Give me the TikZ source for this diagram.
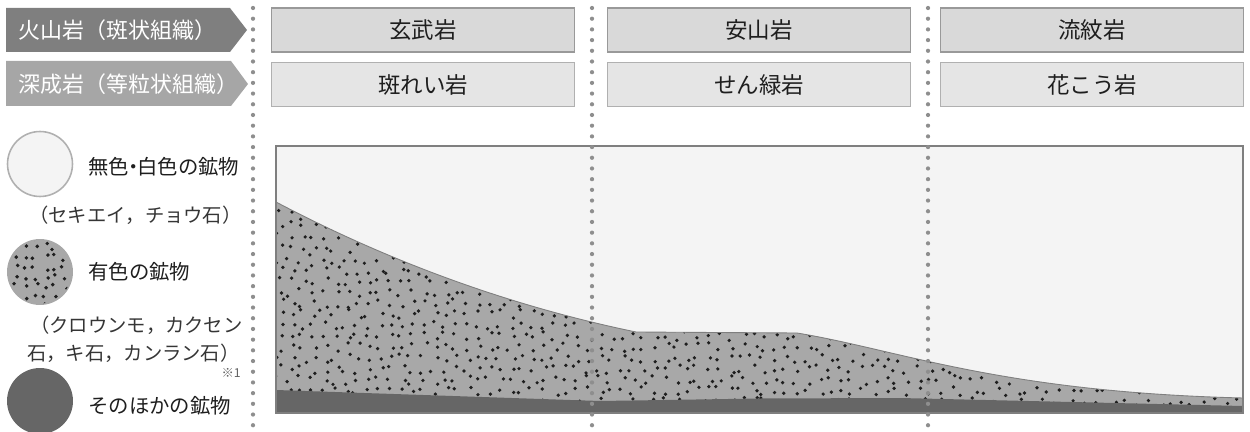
\documentclass[tikz,border=0pt]{standalone}
\usepackage{fontspec}
\setmainfont{Noto Sans CJK JP}
\usetikzlibrary{positioning}

\definecolor{volcgray}{HTML}{7F7F7F}
\definecolor{plutgray}{HTML}{A6A6A6}
\definecolor{rowafill}{HTML}{D9D9D9}
\definecolor{rowbfill}{HTML}{E5E5E5}
\definecolor{rowaline}{HTML}{999999}
\definecolor{rowbline}{HTML}{B0B0B0}
\definecolor{chartbg}{HTML}{F4F4F4}
\definecolor{maficgray}{HTML}{A8A8A8}
\definecolor{othergray}{HTML}{666666}
\definecolor{dotgray}{HTML}{8E8E8E}
\definecolor{inkgray}{HTML}{1E1E1E}

\tikzset{
    rowa/.style={draw=rowaline, line width=0.9pt, fill=rowafill,
        minimum width=6.06cm, minimum height=0.88cm, inner sep=0pt,
        text=inkgray, font=\fontsize{12.8pt}{15pt}\selectfont},
    rowb/.style={rowa, draw=rowbline, fill=rowbfill},
    headtext/.style={anchor=west, inner sep=0pt, text=white,
        font=\fontsize{12.5pt}{15pt}\selectfont},
    legtext/.style={anchor=west, inner sep=0pt, text=inkgray,
        font=\fontsize{11.6pt}{14pt}\selectfont},
    subtext/.style={anchor=east, inner sep=0pt, text=inkgray!90,
        font=\fontsize{11pt}{13pt}\selectfont},
    divider/.style={dotgray, line width=0.085cm, line cap=round,
        dash pattern=on 0pt off 0.214cm},
    grain/.style={fill=inkgray}
}

\begin{document}
\begin{tikzpicture}[x=0.02cm, y=-0.02cm]

    \useasboundingbox (0,0) rectangle (1250,432);

    % row headers
    \fill[volcgray] (6,8) -- (230,8) -- (247,30) -- (230,52) -- (6,52) -- cycle;
    \fill[plutgray] (6,61) -- (231,61) -- (248,84) -- (231,106) -- (6,106) -- cycle;
    \node[headtext] (volc) at (18,30) {火山岩（斑状組織）};
    \node[headtext] (plut) at (18,84) {深成岩（等粒状組織）};

    % rock names
    \node[rowa] (bas) at (423,30) {玄武岩};
    \node[rowa] (and) at (759,30) {安山岩};
    \node[rowa] (rhy) at (1092,30) {流紋岩};
    \node[rowb, below=0.18cm of bas] (gab) {斑れい岩};
    \node[rowb, below=0.18cm of and] (dio) {せん緑岩};
    \node[rowb, below=0.18cm of rhy] (gra) {花こう岩};

    % legend
    \node[draw=rowbline,
        line width=0.9pt,
        circle,
        minimum size=1.3cm,
        fill=chartbg
    ] (felsic) at (40,164){};
    \node[circle,
        minimum size=1.32cm,
        fill=maficgray
    ] (mafic) at (40,272){};
    \begin{scope}
        \clip (mafic.center) circle (0.63cm);
        \pgfmathsetseed{5}
        \foreach \i in {0,...,7} {
            \foreach \j in {0,...,7} {
                \pgfmathsetmacro\gx{5+10*\i+3.5*rand}
                \pgfmathsetmacro\gy{237+10*\j+3.5*rand}
                \fill[grain] (\gx,\gy) circle (1.1pt);
            }
        }
    \end{scope}
    \node[circle,
        minimum size=1.32cm,
        fill=othergray
    ] (other) at (40,401){};

    \node[legtext] (felsiclab) at (88,167)
        {無色\hspace{-0.3em}・\hspace{-0.3em}白色の鉱物};
    \node[subtext] (felsicsub) at (242,215) {（セキエイ，チョウ石）};
    \node[legtext] (maficlab) at (88,272) {有色の鉱物};
    \node[subtext] (maficsuba) at (243,325) {（クロウンモ，カクセン};
    \node[subtext] (maficsubb) at (240,353) {石，キ石，カンラン石）};
    \node[legtext] (otherlab) at (88,406) {そのほかの鉱物};
    \node[anchor=east, inner sep=0pt, text=inkgray!70,
        font=\fontsize{7pt}{8pt}\selectfont] (othernote) at (241,373) {※1};

    % chart
    \coordinate (chartnw) at (276,146);
    \coordinate (chartse) at (1243,413);
    \fill[chartbg] (chartnw) rectangle (chartse);
    \fill[maficgray] (276,202) .. controls (390,262) and (510,306) .. (636,332)
        -- (797,333) .. controls (900,350) and (1000,392) .. (1243,398)
        -- (1243,413) -- (276,413) -- cycle;
    \begin{scope}
        \clip (276,202) .. controls (390,262) and (510,306) .. (636,332)
            -- (797,333) .. controls (900,350) and (1000,392) .. (1243,398)
            -- (1243,413) -- (276,413) -- cycle;
        \pgfmathsetseed{17}
        \foreach \i in {0,...,88} {
            \foreach \j in {0,...,19} {
                \pgfmathsetmacro\gx{280+11*\i+4.5*rand}
                \pgfmathsetmacro\gy{204+11*\j+4.5*rand}
                \fill[grain] (\gx,\gy) circle (1.05pt);
            }
        }
    \end{scope}
    \draw[volcgray, line width=0.5pt] (276,202) .. controls (390,262) and (510,306) .. (636,332)
        -- (797,333) .. controls (900,350) and (1000,392) .. (1243,398);
    \fill[othergray] (276,390) -- (600,401) -- (760,398.5) -- (900,398)
        -- (1243,406) -- (1243,413) -- (276,413) -- cycle;
    \draw[volcgray, line width=0.9pt] (chartnw) rectangle (chartse);

    % dividers
    \foreach \x/\n in {253/a, 592/b, 928/c} {
        \coordinate (div\n top) at (\x,8);
        \coordinate (div\n bot) at (\x,436);
        \draw[divider] (div\n top) -- (div\n bot);
    }

\end{tikzpicture}
\end{document}
